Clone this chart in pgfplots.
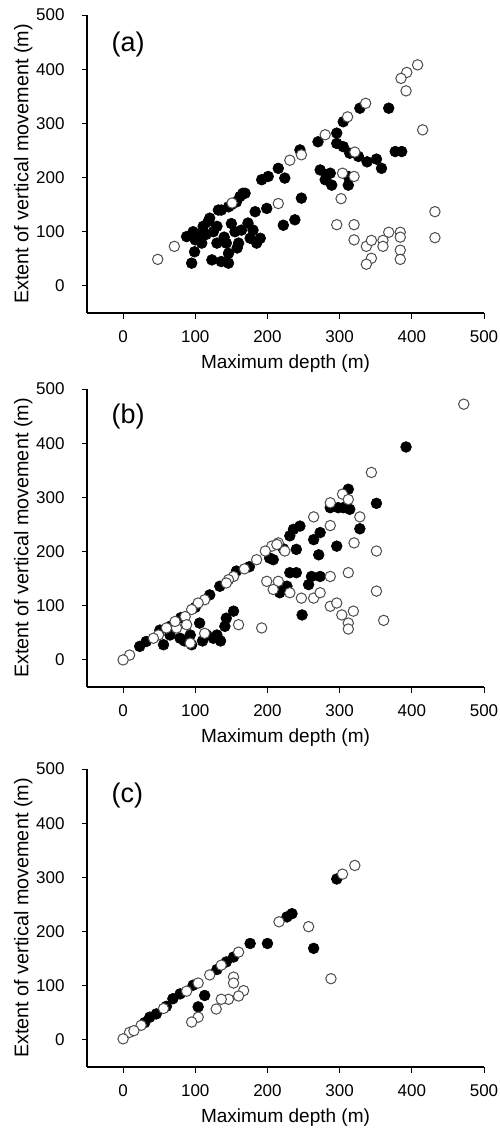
\documentclass[border=0pt]{standalone}
\usepackage{pgfplots}
\pgfplotsset{compat=1.18}
\usepackage{fontspec}
\setmainfont{Liberation Sans}
\tikzset{plabel/.style={anchor=west,inner sep=0pt,font=\fontsize{27}{30}\selectfont}}
\begin{document}
\begin{tikzpicture}
\useasboundingbox (0pt,0pt) rectangle (500pt,-1142pt);
\pgfplotsset{
 panel/.style={
  scale only axis, width=397pt, height=298pt,
  xmin=-50,xmax=500,ymin=-50,ymax=500,
  axis lines*=left, axis line style={line width=1.5pt},
  xtick={0,100,...,500}, ytick={0,100,...,500},
  xticklabels={0,100,200,300,400,500},
  yticklabels={0,100,200,300,400,500},
  tick align=outside, major tick length=5.5pt,
  every tick/.style={line width=1pt, black},
  tick label style={font=\fontsize{17}{20}\selectfont},
  xticklabel style={yshift=-8.5pt},
  yticklabel style={xshift=-13.5pt},
  xlabel={Maximum depth (m)}, ylabel={Extent of vertical movement (m)},
  xlabel style={font=\fontsize{19}{22}\selectfont,at={(axis description cs:0.5,-0.1275)},anchor=north},
  ylabel style={font=\fontsize{19.8}{22}\selectfont,at={(axis description cs:-0.1285,0.5)},anchor=south},
  clip=false,
 },
 filled/.style={only marks, mark=*, mark size=5.4pt, mark options={fill=black,draw=black,line width=0.6pt}},
 open/.style={only marks, mark=*, mark size=5.2pt, mark options={fill=white,draw=black!70,line width=1pt}},
}
% ---------- (a)
\begin{axis}[panel, at={(87pt,-313pt)}, anchor=south west]
\addplot[filled] coordinates {
(95,42)(88,91)(97,100)(99,63)(109,79)(111,110)(120,125)(130,79)(123,48)(136,45)(146,42)
(136,140)(146,60)(143,79)(162,165)(169,171)(160,79)(164,103)(173,116)(180,103)(176,88)
(190,88)(185,79)(183,137)(199,143)(192,196)(201,202)(215,217)(224,199)(222,112)(238,122)
(247,162)(245,251)(270,266)(273,214)(280,196)(289,186)(287,208)(296,282)(296,263)(305,257)
(305,303)(328,328)(368,328)(282,205)(312,186)(312,202)(314,245)(326,239)(338,229)(351,234)
(358,217)(377,248)(386,248)(157,155)(166,171)(146,146)(132,140)(118,119)(105,95)(100,85)
(115,95)(125,100)(130,110)(150,115)(155,100)(158,70)(140,90)(150,150)
};
\addplot[open] coordinates {
(48,49)(71,73)(151,153)(215,152)(231,232)(247,242)(280,279)(311,312)(336,337)(408,408)
(393,394)(385,383)(392,360)(415,288)(321,247)(304,208)(320,202)(302,161)(296,113)(320,113)
(432,137)(432,89)(368,99)(384,99)(384,90)(320,85)(337,73)(344,84)(360,84)(360,73)
(384,66)(344,51)(337,40)(384,49)
};
\node[plabel] at (axis cs:-16,445) {(a)};
\end{axis}
% ---------- (b)
\begin{axis}[panel, at={(87pt,-687pt)}, anchor=south west]
\addplot[filled] coordinates {
(23,25)(32,34)(51,55)(65,62)(80,78)(100,97)(120,120)(134,136)(157,164)(175,172)(203,188)
(222,205)(208,185)
(56,28)(79,40)(95,28)(93,46)(116,46)(130,46)(141,62)(143,77)(153,90)(106,68)(65,46)(85,35)
(110,35)(125,40)(135,35)
(392,393)(312,315)(305,281)(314,278)(287,281)(298,281)(351,289)(328,242)(245,247)(236,241)
(231,229)(240,204)(273,235)(264,222)(296,210)(271,194)(231,161)(240,161)(261,154)(273,154)
(257,139)(217,124)(227,136)(248,83)(220,136)
};
\addplot[open] coordinates {
(472,472)(344,346)(304,306)(312,296)(287,290)(328,264)(264,264)(287,248)(320,216)(351,201)
(215,216)(206,210)(197,201)(185,185)(168,168)(153,154)(146,148)(143,142)(113,111)(104,105)
(95,93)(86,80)(88,65)(74,59)(72,71)(60,59)(49,46)(42,40)(9,9)(0,0)(93,31)(113,49)(160,65)
(192,59)(199,145)(215,145)(208,130)(231,124)(247,114)(264,114)(273,124)(287,154)(312,161)
(351,127)(287,99)(296,105)(303,83)(319,90)(312,68)(312,57)(361,73)(224,201)(213,213)
};
\node[plabel] at (axis cs:-16,450) {(b)};
\end{axis}
% ---------- (c)
\begin{axis}[panel, at={(87pt,-1067pt)}, anchor=south west]
\addplot[filled] coordinates {
(296,297)(227,227)(234,233)(264,169)(176,178)(200,178)(143,144)(153,153)(37,42)(46,48)
(69,76)(79,85)(97,101)(113,82)(104,61)(60,62)(30,32)(130,130)
};
\addplot[open] coordinates {
(321,322)(304,306)(216,218)(257,209)(288,113)(160,162)(136,138)(120,120)(104,105)(88,90)
(56,58)(25,27)(9,14)(0,2)(15,17)(153,116)(153,105)(167,91)(160,81)(146,75)(136,75)(129,57)
(104,42)(95,33)
};
\node[plabel] at (axis cs:-16,452) {(c)};
\end{axis}
\end{tikzpicture}
\end{document}
